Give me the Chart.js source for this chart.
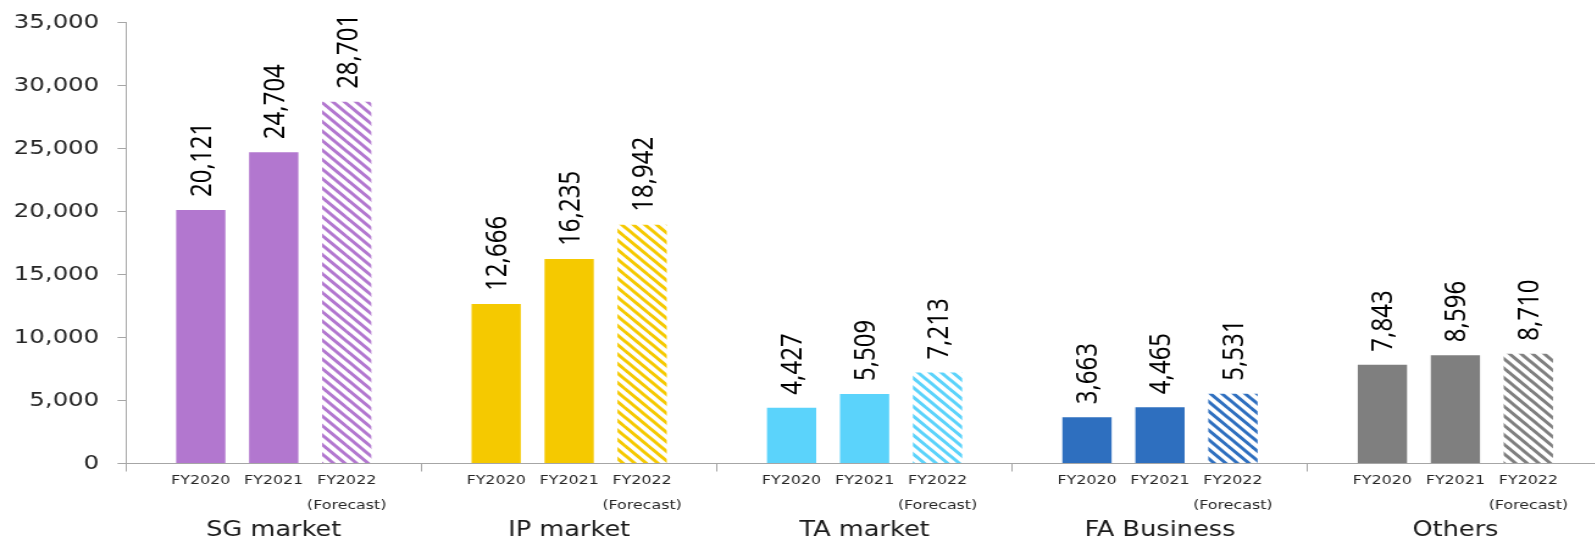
<!DOCTYPE html>
<html>
<head>
<meta charset="utf-8">
<script src="https://cdn.jsdelivr.net/npm/chart.js@4.4.1/dist/chart.umd.min.js"></script>
<style>
  html, body { margin: 0; padding: 0; background: #fff; overflow: hidden; width: 1595px; height: 541px; }
  #wrap { width: 1318px; height: 541px; transform: scaleX(1.22); transform-origin: 0 0; }
  canvas { display: block; }
</style>
</head>
<body>
<div id="wrap"><canvas id="c" width="1318" height="541"></canvas></div>
<script>
// ---- data ----
const categories = ["SG market", "IP market", "TA market", "FA Business", "Others"];
const yearLabels = ["FY2020", "FY2021", "FY2022"];
const forecastNote = "(Forecast)";
const fy2020 = [20121, 12666, 4427, 3663, 7843];
const fy2021 = [24704, 16235, 5509, 4465, 8596];
const fy2022 = [28701, 18942, 7213, 5531, 8710];
const yTicks = [0, 5000, 10000, 15000, 20000, 25000, 30000, 35000];

// ---- styles ----
const groupColors = ["#B277CF", "#F5C900", "#5BD3FB", "#2E6FBF", "#7F7F7F"];

function makeHatch(color) {
  const p = 19, step = 9.5;
  const c = document.createElement("canvas");
  c.width = p; c.height = p;
  const g = c.getContext("2d");
  g.fillStyle = "#fff";
  g.fillRect(0, 0, p, p);
  g.strokeStyle = color;
  g.lineWidth = 3;
  for (let k = -3; k <= 3; k++) {
    g.beginPath();
    g.moveTo(k * step - 2, -2);
    g.lineTo(k * step + p + 2, p + 2);
    g.stroke();
  }
  return g.createPattern(c, "repeat");
}

const fmt = v => v.toLocaleString("en-US");

const labelPlugin = {
  id: "barLabels",
  afterDatasetsDraw(chart) {
    const ctx = chart.ctx;
    chart.data.datasets.forEach((ds, i) => {
      const meta = chart.getDatasetMeta(i);
      meta.data.forEach((bar, j) => {
        // value label (rotated)
        ctx.save();
        ctx.translate(bar.x + 1.5, bar.y - 13);
        ctx.rotate(-Math.PI / 2);
        ctx.font = '24px "Noto Sans"';
        ctx.fillStyle = "#000";
        ctx.textAlign = "left";
        ctx.textBaseline = "middle";
        ctx.fillText(fmt(ds.data[j]), 0, 0);
        ctx.restore();
        // year label under each bar
        ctx.save();
        ctx.font = '13px "DejaVu Sans"';
        ctx.fillStyle = "#262626";
        ctx.textAlign = "center";
        ctx.textBaseline = "alphabetic";
        ctx.fillText(yearLabels[i], bar.x, 484);
        if (i === 2) ctx.fillText(forecastNote, bar.x, 509);
        ctx.restore();
      });
    });
  }
};

const datasets = [fy2020, fy2021, fy2022].map((arr, i) => ({
  label: yearLabels[i],
  data: arr,
  backgroundColor: i === 2 ? groupColors.map(makeHatch) : groupColors,
  borderWidth: 0,
  categoryPercentage: 0.741,
  barPercentage: 0.675
}));

new Chart(document.getElementById("c"), {
  type: "bar",
  data: { labels: categories, datasets },
  options: {
    responsive: false,
    animation: false,
    devicePixelRatio: 1,
    layout: { padding: { top: 22.5, right: 4, left: 0, bottom: 0 } },
    plugins: { legend: { display: false }, tooltip: { enabled: false } },
    scales: {
      x: {
        grid: { display: true, offset: true, drawOnChartArea: false, drawTicks: true, tickLength: 8, color: "#A6A6A6", lineWidth: 1 },
        border: { display: true, color: "#A6A6A6", width: 1 },
        ticks: { padding: 46.5, color: "#1a1a1a", font: { family: "DejaVu Sans", size: 21 }, maxRotation: 0, autoSkip: false },
        afterFit(scale) { scale.height = 77.5; }
      },
      y: {
        min: 0, max: 35000,
        afterBuildTicks(scale) { scale.ticks = yTicks.map(v => ({ value: v })); },
        grid: { display: true, drawOnChartArea: false, drawTicks: true, tickLength: 7, color: "#A6A6A6", lineWidth: 1 },
        border: { display: true, color: "#A6A6A6", width: 1 },
        ticks: { padding: 15, color: "#262626", font: { family: "DejaVu Sans", size: 20 }, callback: v => fmt(v) },
        afterFit(scale) { scale.width = 103.3; scale.paddingTop = 0; scale.paddingBottom = 0; }
      }
    }
  },
  plugins: [labelPlugin]
});
</script>
</body>
</html>
